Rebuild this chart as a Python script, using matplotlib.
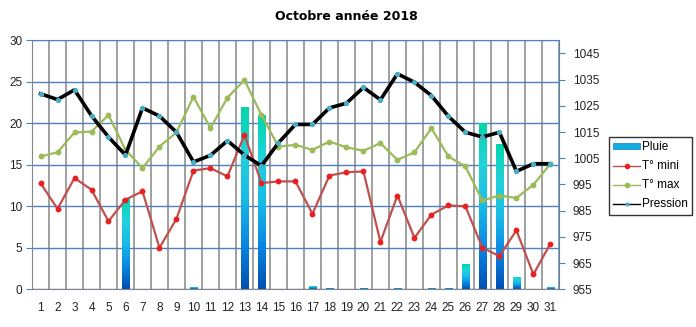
import matplotlib
matplotlib.use("Agg")
import matplotlib.pyplot as plt
import numpy as np
from matplotlib.colors import LinearSegmentedColormap
from matplotlib.lines import Line2D
from matplotlib.patches import Patch

days = list(range(1, 32))

pluie = [0, 0, 0, 0, 0, 10.9, 0, 0, 0, 0.3, 0, 0, 22.0, 21.0, 0, 0, 0.4, 0.2,
         0, 0.2, 0, 0.2, 0, 0.2, 0.2, 3.0, 20.0, 17.5, 1.5, 0, 0.3]

t_mini = [12.8, 9.7, 13.4, 12.0, 8.2, 10.8, 11.8, 5.0, 8.5, 14.3, 14.6, 13.6,
          18.6, 12.8, 13.0, 13.0, 9.1, 13.7, 14.1, 14.2, 5.7, 11.3, 6.2, 9.0,
          10.1, 10.0, 5.0, 4.0, 7.1, 1.8, 5.5]

t_max = [16.0, 16.5, 18.9, 19.0, 21.0, 16.8, 14.6, 17.2, 18.9, 23.2, 19.4, 23.1,
         25.2, 21.0, 17.2, 17.4, 16.8, 17.8, 17.1, 16.7, 17.6, 15.6, 16.5, 19.4,
         16.0, 14.8, 10.7, 11.3, 11.0, 12.6, 15.1]

pression = [1029.6, 1027.4, 1031.1, 1021.2, 1013.1, 1006.2, 1024.2, 1021.1,
            1014.9, 1003.6, 1006.1, 1011.7, 1006.2, 1002.1, 1010.9, 1017.9,
            1017.9, 1024.2, 1026.0, 1032.0, 1027.3, 1037.2, 1034.0, 1028.9,
            1021.0, 1014.9, 1013.1, 1014.9, 1000.0, 1002.9, 1002.9]

left_ticks = [0, 5, 10, 15, 20, 25, 30]
right_ticks = [955, 965, 975, 985, 995, 1005, 1015, 1025, 1035, 1045]

BLUE_GRID = "#4f81bd"
GRAY_GRID = "#868686"
RED_LINE = "#c0504d"
RED_MARK = "#e8201f"
GREEN = "#9bbb59"
TEAL = "#4bacc6"

plt.rcParams["font.family"] = ["Liberation Sans", "DejaVu Sans"]

rain_cmap = LinearSegmentedColormap.from_list(
    "pluie", ["#0050b2", "#0a86e4", "#18bce6", "#22d2dc", "#00d6a8"])

fig = plt.figure(figsize=(6.96, 3.27), dpi=100)
ax = fig.add_axes([0.046, 0.1153, 0.757, 0.7615])

# rain bars filled with a vertical gradient clipped to each bar
bars = ax.bar(days, pluie, width=0.42, color="none", linewidth=0, zorder=2)
grad = np.linspace(0, 1, 256).reshape(-1, 1)
for rect in bars:
    h = rect.get_height()
    if h <= 0:
        continue
    x0 = rect.get_x()
    im = ax.imshow(grad, extent=(x0, x0 + rect.get_width(), 0, h),
                   origin="lower", aspect="auto", cmap=rain_cmap, zorder=2)
    im.set_clip_path(rect)

ax.plot(days, t_mini, color=RED_LINE, linewidth=1.6, marker="o",
        markersize=3.2, markerfacecolor=RED_MARK, markeredgecolor=RED_MARK,
        zorder=4)
ax.plot(days, t_max, color=GREEN, linewidth=1.6, marker="o",
        markersize=3.2, markerfacecolor=GREEN, markeredgecolor=GREEN,
        zorder=4)

ax.set_xlim(0.5, 31.5)
ax.set_ylim(0, 30)
ax.set_yticks(left_ticks)
ax.set_xticks(days)
ax.set_xticks(np.arange(0.5, 32, 1), minor=True)
ax.tick_params(axis="x", which="major", length=0, pad=9, labelsize=8.5,
               labelcolor="#222222")
ax.tick_params(axis="x", which="minor", length=0)
ax.tick_params(axis="y", length=4, color=BLUE_GRID, labelsize=8.5,
               labelcolor="#222222", pad=3)
ax.grid(axis="x", which="minor", color=GRAY_GRID, linewidth=1.1, zorder=1)
ax.grid(axis="y", which="major", color=BLUE_GRID, linewidth=1.0, zorder=1)
ax.set_axisbelow(True)
for side in ["left", "bottom"]:
    ax.spines[side].set_color(GRAY_GRID)
ax.spines["top"].set_color(BLUE_GRID)
ax.spines["right"].set_color(BLUE_GRID)

# pressure on the secondary axis
ax2 = ax.twinx()
ax2.plot(days, pression, color="black", linewidth=2.6, marker="o",
         markersize=2.8, markerfacecolor=TEAL, markeredgecolor=TEAL,
         zorder=5)
ax2.set_ylim(955, 1050)
ax2.set_yticks(right_ticks)
ax2.tick_params(axis="y", length=4, color=BLUE_GRID, labelsize=8.5,
                labelcolor="#222222", pad=6)
for s in ax2.spines.values():
    s.set_visible(False)

fig.text(0.497, 0.95, "Octobre année 2018", ha="center", va="center",
         fontsize=9, fontweight="bold", family="DejaVu Sans")

handles = [
    Patch(facecolor="#12aee2", edgecolor="#0a7fd8", linewidth=0.5),
    Line2D([], [], color=RED_LINE, linewidth=1, marker="o", markersize=3,
           markerfacecolor=RED_MARK, markeredgecolor=RED_MARK),
    Line2D([], [], color=GREEN, linewidth=1, marker="o", markersize=3,
           markerfacecolor=GREEN, markeredgecolor=GREEN),
    Line2D([], [], color="black", linewidth=1, marker="o", markersize=2,
           markerfacecolor=TEAL, markeredgecolor=TEAL),
]
leg = fig.legend(handles, ["Pluie", "T° mini", "T° max", "Pression"],
                 loc="upper left", bbox_to_anchor=(0.875, 0.581),
                 fontsize=8.5, frameon=True, fancybox=False,
                 edgecolor="black", handlelength=2.3, handleheight=0.4,
                 handletextpad=0.15, borderpad=0.35, labelspacing=0.6,
                 borderaxespad=0)
leg.get_frame().set_linewidth(1.0)

fig.savefig("out.png", dpi=100)
